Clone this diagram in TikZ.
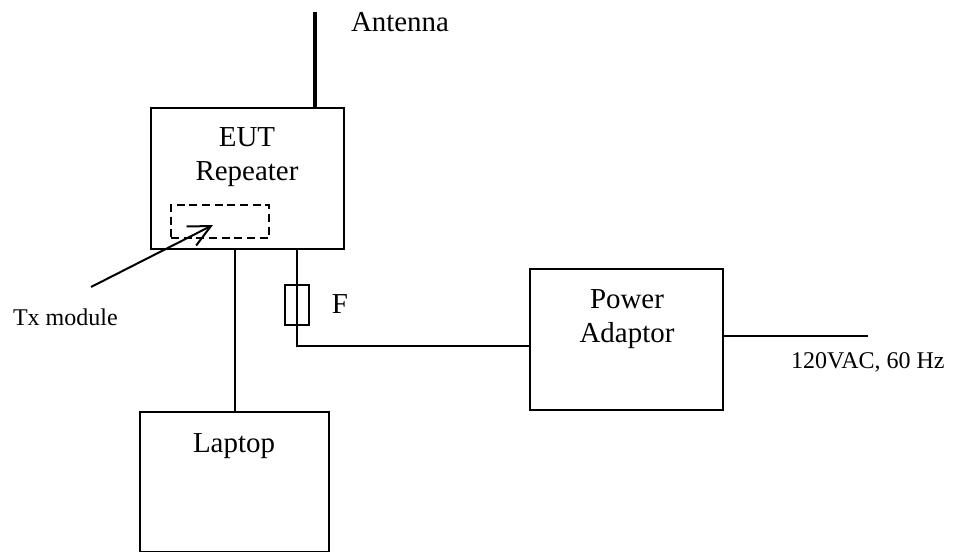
\documentclass[tikz,border=0pt]{standalone}
\usepackage{fontspec}
\setmainfont{Liberation Serif}
\usetikzlibrary{arrows.meta}
\begin{document}
\begin{tikzpicture}[x=0.75pt,y=-0.75pt,line width=1.5pt,
  box/.style={draw=black,anchor=north west,inner sep=0pt,outer sep=0pt},
  lab/.style={font=\fontsize{21.7}{25.2}\selectfont,align=center,inner sep=0pt},
  small/.style={font=\fontsize{18}{21}\selectfont,inner sep=0pt}]
\useasboundingbox (0,0) rectangle (961,552);
\node[box,minimum width=144.75pt,minimum height=105.75pt] (eut) at (151,108) {};
\node[box,minimum width=144.75pt,minimum height=105.75pt] (pa) at (530,269) {};
\node[box,minimum width=141.75pt,minimum height=105pt] (lap) at (140,412) {};
\node[box,dashed,dash pattern=on 6pt off 3.5pt,minimum width=73.5pt,minimum height=24.75pt] (tx) at (171,205) {};
\node[box,minimum width=18pt,minimum height=30pt] (f) at (285,285) {};
\coordinate (ant) at (315,12);
\coordinate (mains) at (868,336);
\coordinate (corner) at (297,346);
\coordinate (arrs) at (91,287);
\coordinate (arre) at (213,225);
\coordinate (lt) at (235,249);
\coordinate (ft) at (297,249);
\draw[line width=2.6pt] (ant) -- (ant |- eut.north);
\draw (lt) -- (lt |- lap.north);
\draw (ft) -- (corner) -- (corner -| pa.west);
\draw (pa.east |- mains) -- (mains);
\draw[-{Straight Barb[length=16.5pt,width=16pt]}] (arrs) -- (arre);
\node[lab,anchor=west] (tant) at (350,22) {Antenna};
\node[lab] (teut) at (247,157) {EUT\\Repeater};
\node[lab] (tpa) at (627,319) {Power\\Adaptor};
\node[lab] (tlap) at (234,446) {Laptop};
\node[lab] (tf) at (340,304) {F};
\node[small,anchor=west] (ttx) at (12,317) {Tx module};
\node[small,anchor=west] (tv) at (790,362) {120VAC, 60 Hz};
\end{tikzpicture}
\end{document}
